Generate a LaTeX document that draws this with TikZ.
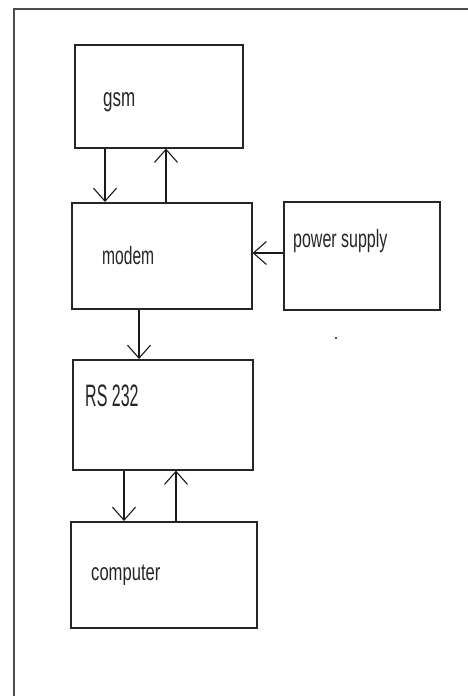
\documentclass[tikz,border=0pt]{standalone}
\usepackage{fontspec}
\usepackage{graphicx}
\newfontfamily\paintfont{Liberation Sans}
\usetikzlibrary{arrows.meta}
\newcommand{\painttext}[3]{\scalebox{#1}[#2]{#3}}
\tikzset{
  box/.style={draw=black!85, line width=1.6pt, rectangle, anchor=north west, inner sep=0pt},
  lbl/.style={anchor=base west, inner sep=0pt, font=\paintfont\fontsize{20}{22}\selectfont, text=black!85},
  arr/.style={line width=1.3pt, draw=black!90, -{Straight Barb[length=13pt,width=23pt,line width=1.1pt]}},
}
\begin{document}
\begin{tikzpicture}[x=1pt,y=-1pt]
\useasboundingbox (0,0) rectangle (468,696);
\fill[white] (0,0) rectangle (468,696);
\begin{scope}
\clip (0,0) rectangle (468,696);
\draw[line width=2pt, draw=black!70] (14,9) rectangle (490,720);
\end{scope}
% boxes
\node[box, minimum width=168pt, minimum height=103pt] (gsm) at (74,44) {};
\node[box, minimum width=180pt, minimum height=106pt] (modem) at (71,202) {};
\node[box, minimum width=156pt, minimum height=108pt] (power) at (283,201) {};
\node[box, minimum width=180pt, minimum height=110pt] (rs) at (72,359) {};
\node[box, minimum width=186pt, minimum height=106pt] (comp) at (70,521) {};
% labels
\node[lbl] (gsmt) at (103,106) {\painttext{0.85}{1.3}{gsm}};
\node[lbl] (modemt) at (102,264) {\painttext{0.78}{1.25}{modem}};
\node[lbl] (powert) at (293,247) {\painttext{0.8}{1.25}{power supply}};
\node[lbl] (rst) at (85,406) {\painttext{0.8}{1.55}{RS 232}};
\node[lbl] (compt) at (91,580) {\painttext{0.83}{1.2}{computer}};
% stray dot
\fill[black!70] (335,337) rectangle (337,339);
% connectors
\draw[arr] ([xshift=31pt]gsm.south west) -- ([xshift=34pt]modem.north west);
\draw[arr] ([xshift=95pt]modem.north west) -- ([xshift=92pt]gsm.south west);
\draw[arr] ([yshift=-52pt]power.north west) -- ([yshift=-51pt]modem.north east);
\draw[arr] ([xshift=68pt]modem.south west) -- ([xshift=67pt]rs.north west);
\draw[arr] ([xshift=52pt]rs.south west) -- ([xshift=54pt]comp.north west);
\draw[arr] ([xshift=106pt]comp.north west) -- ([xshift=104pt]rs.south west);
\end{tikzpicture}
\end{document}
